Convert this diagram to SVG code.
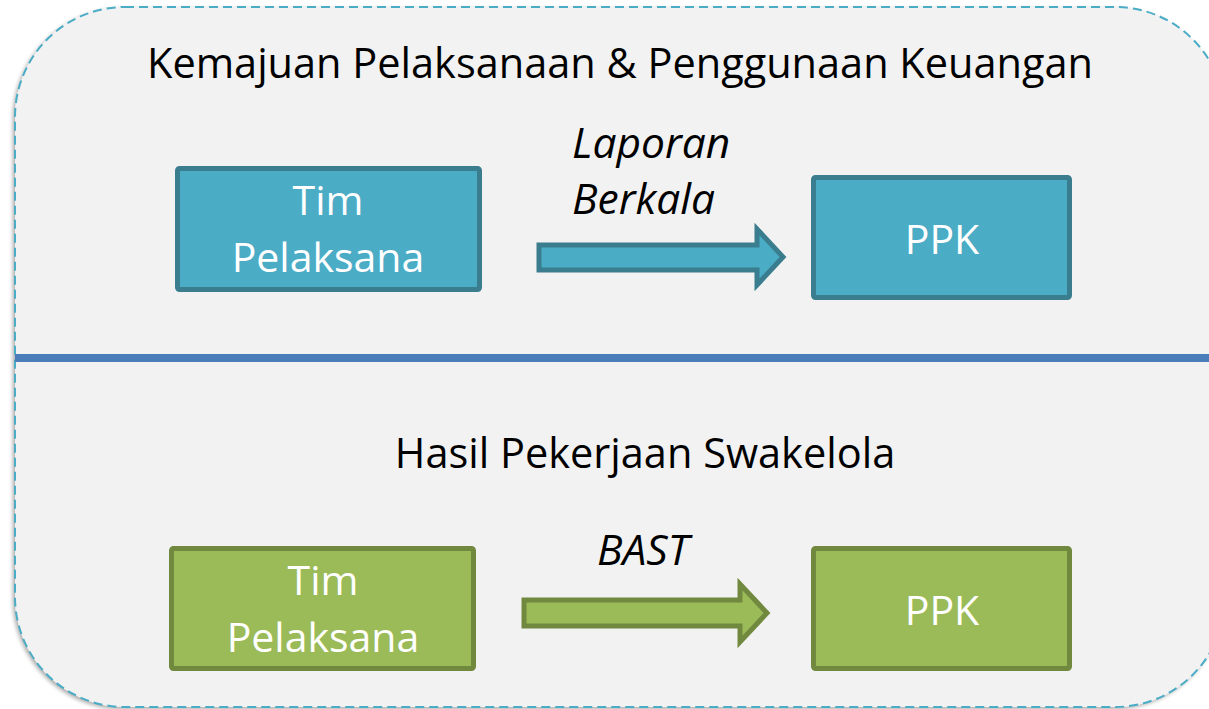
<svg xmlns="http://www.w3.org/2000/svg" width="1209" height="709" viewBox="0 0 1209 709">
<style>
.t{font-family:"Open Sans","Noto Sans","DejaVu Sans",sans-serif;font-size:41.5px;fill:#000;}
.w{font-family:"Open Sans","Noto Sans","DejaVu Sans",sans-serif;font-size:41px;fill:#fff;text-anchor:middle;}
.i{font-style:italic;font-size:42.5px;}
.bbox{fill:#4BACC6;stroke:#3A7D8E;stroke-width:5;}
.gbox{fill:#9BBB59;stroke:#71893F;stroke-width:5;}
</style>
<defs>
<filter id="sh" x="-5%" y="-5%" width="110%" height="110%">
<feGaussianBlur in="SourceAlpha" stdDeviation="2"/>
<feOffset dx="-2" dy="2"/>
<feComponentTransfer><feFuncA type="linear" slope="0.35"/></feComponentTransfer>
<feMerge><feMergeNode/><feMergeNode in="SourceGraphic"/></feMerge>
</filter>
</defs>
<rect width="1209" height="709" fill="#fff"/>
<g id="frame">
<rect x="15" y="7" width="1210" height="700" rx="110" ry="110" fill="#F2F2F2" filter="url(#sh)"/>
<rect x="15" y="7" width="1210" height="700" rx="110" ry="110" fill="none" stroke="#4BACC6" stroke-width="2" stroke-dasharray="9,5"/>
<line x1="15" y1="358" x2="1209" y2="358" stroke="#4A7EBB" stroke-width="8"/>
</g>
<g id="titles">
<text class="t" x="620" y="78" text-anchor="middle" textLength="946" lengthAdjust="spacingAndGlyphs">Kemajuan Pelaksanaan &amp; Penggunaan Keuangan</text>
<text class="t" x="645" y="468" text-anchor="middle">Hasil Pekerjaan Swakelola</text>
</g>
<g id="tim1">
<rect class="bbox" x="177.5" y="168.5" width="302" height="121" rx="2"/>
<text class="w" x="328" y="215">Tim</text>
<text class="w" x="328" y="272">Pelaksana</text>
</g>
<g id="ppk1">
<rect class="bbox" x="813.5" y="177.5" width="256" height="120" rx="2"/>
<text class="w" x="942" y="254">PPK</text>
</g>
<g id="tim2">
<rect class="gbox" x="171.5" y="548.5" width="302" height="120" rx="2"/>
<text class="w" x="323" y="595">Tim</text>
<text class="w" x="323" y="652">Pelaksana</text>
</g>
<g id="ppk2">
<rect class="gbox" x="813.5" y="548.5" width="256" height="120" rx="2"/>
<text class="w" x="942" y="625">PPK</text>
</g>
<g id="connectors">
<polygon class="bbox" points="539,245 757,245 757,229 783,257 757,285 757,270 539,270"/>
<text class="t i" x="572" y="158">Laporan</text>
<text class="t i" x="572" y="214">Berkala</text>
<polygon class="gbox" points="524,600 740,600 740,584 767,613 740,642 740,626 524,626"/>
<text class="t i" x="643" y="565" text-anchor="middle">BAST</text>
</g>
</svg>
